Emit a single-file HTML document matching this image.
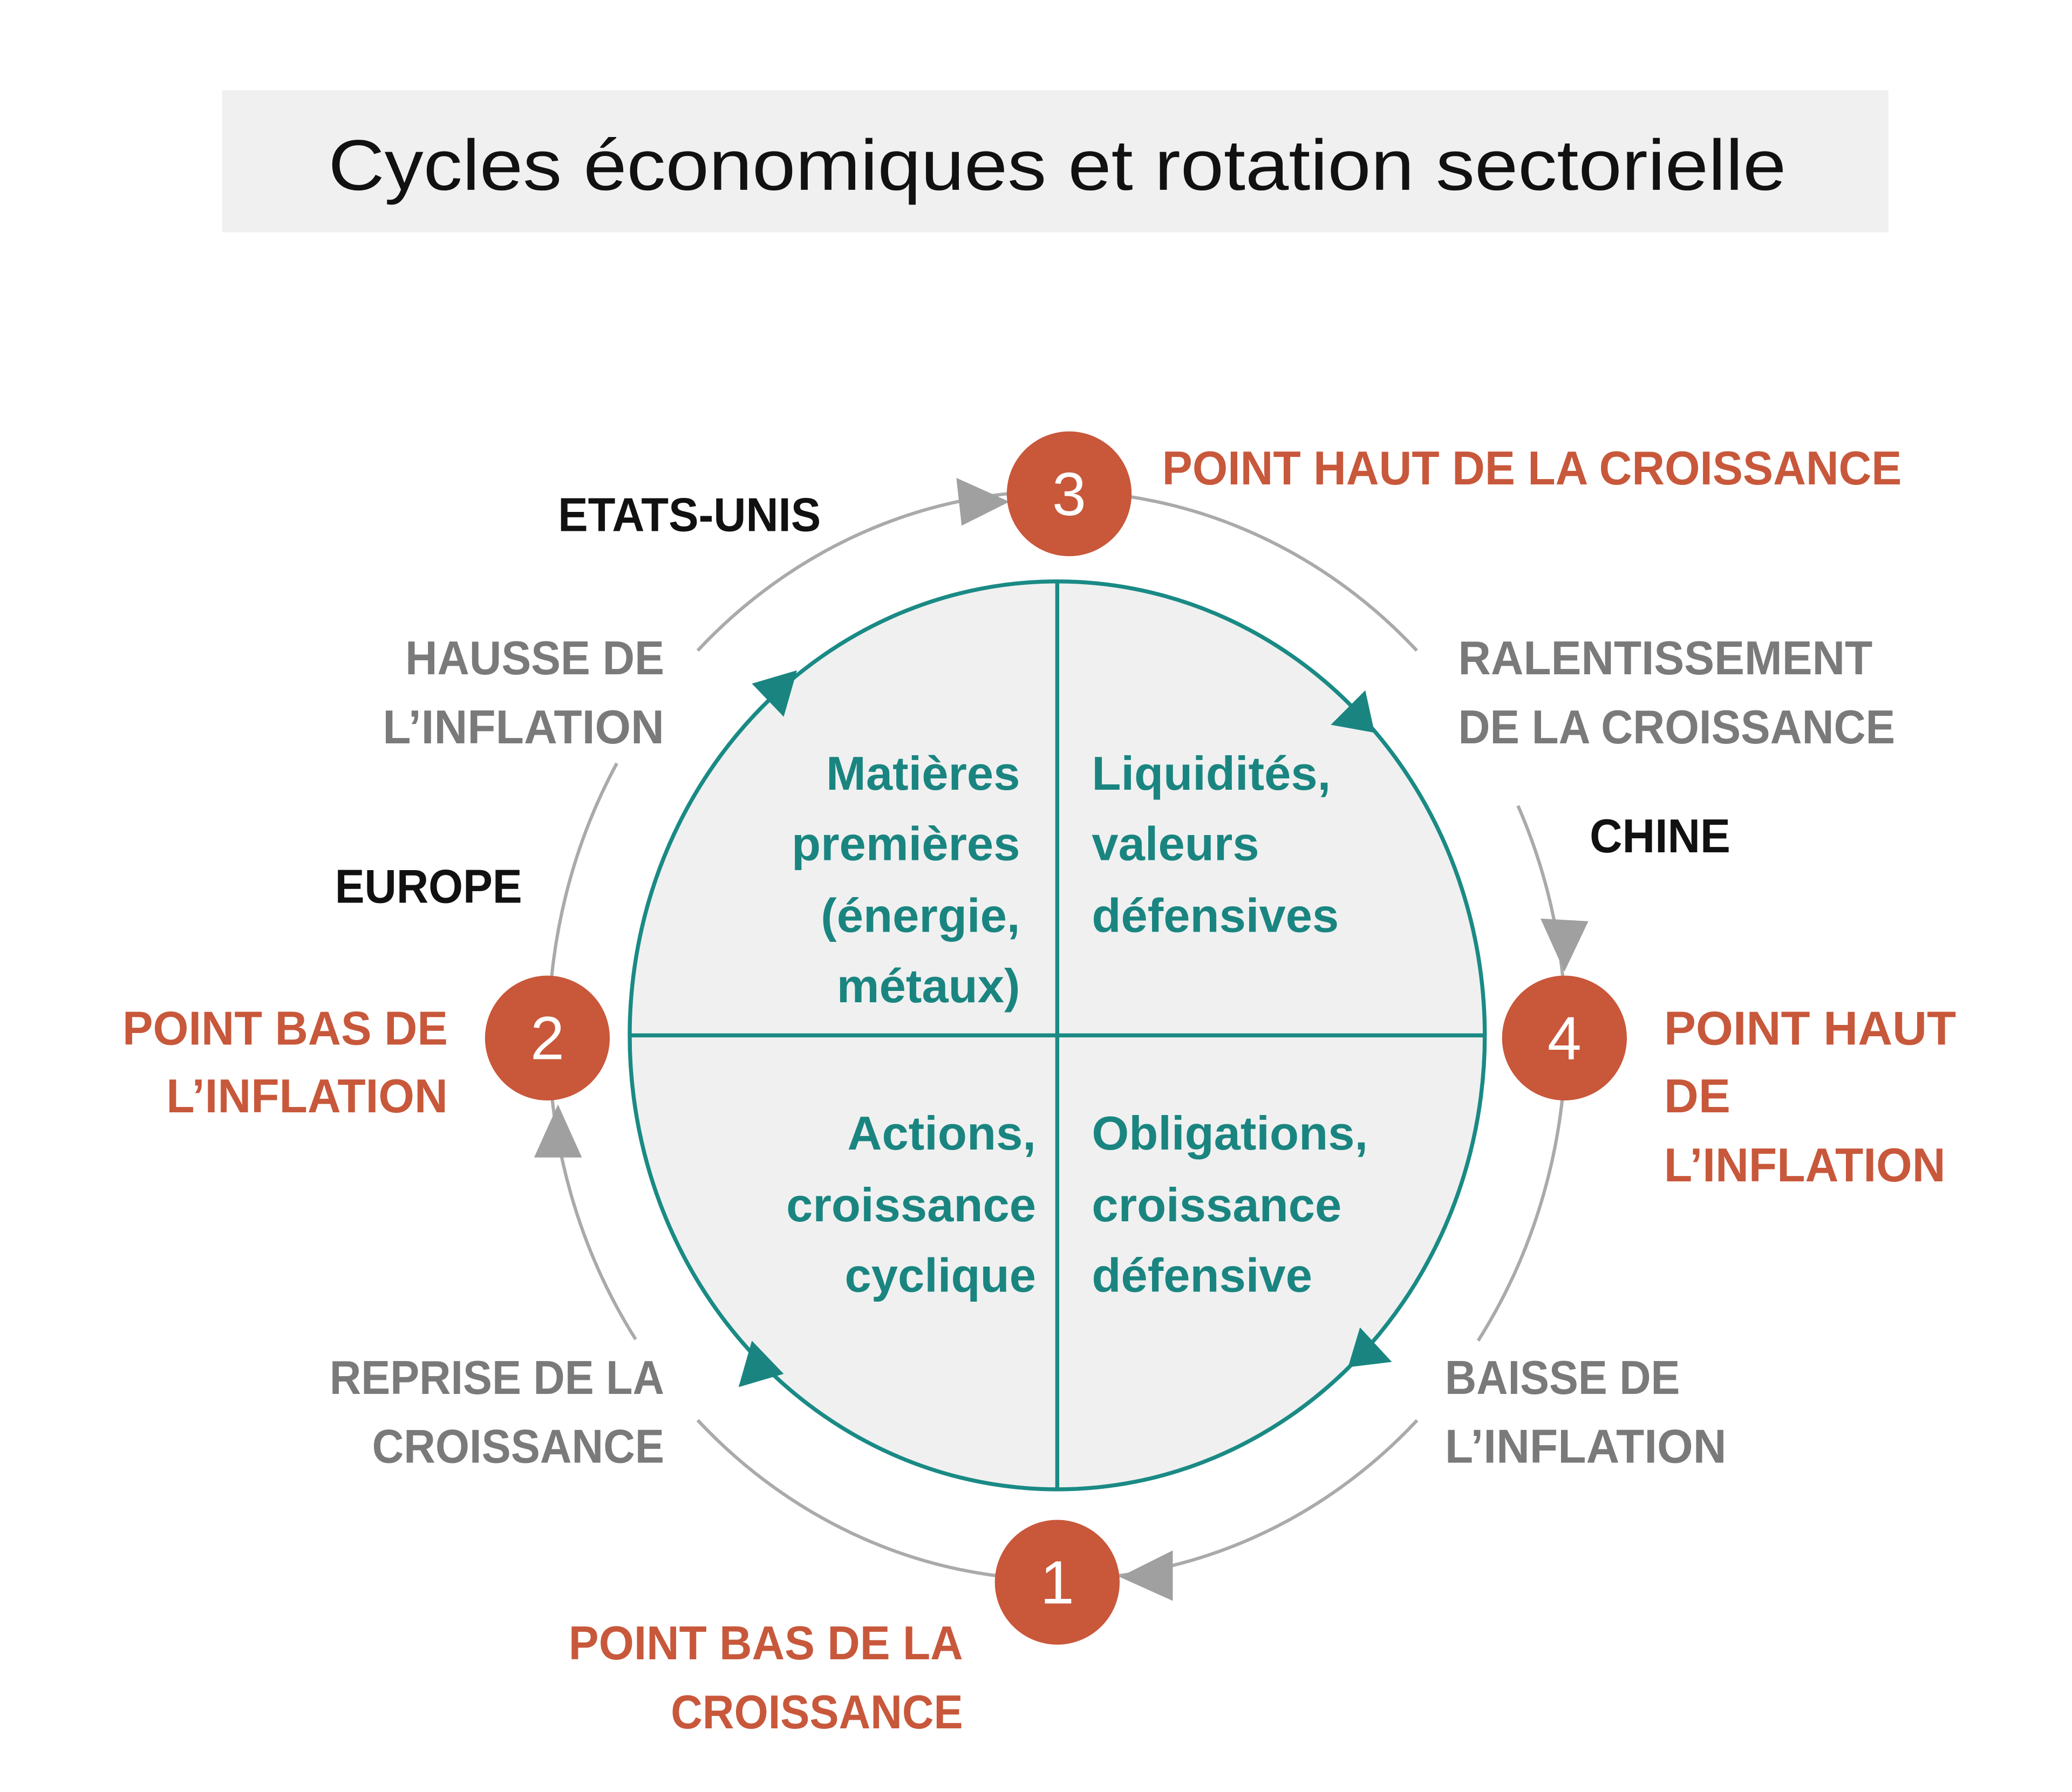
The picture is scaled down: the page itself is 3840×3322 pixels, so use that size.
<!DOCTYPE html>
<html><head><meta charset="utf-8"><style>
html,body{margin:0;padding:0;background:#fff;}
svg{display:block;}
text{font-family:"Liberation Sans",sans-serif;font-weight:bold;}
.r{fill:#c8583b;font-size:36px;}
.g{fill:#7a7a7a;font-size:36px;}
.k{fill:#111;font-size:36px;}
.t{fill:#1a8580;font-size:36px;}
</style></head><body>
<svg width="3840" height="3322" viewBox="0 0 1560 1350" xmlns="http://www.w3.org/2000/svg">
<rect x="0" y="0" width="1560" height="1350" fill="#fff"/>
<rect x="167" y="68" width="1255" height="107" fill="#f0f0f0"/>
<text x="247" y="143" font-size="54" style="font-weight:normal" fill="#111" textLength="1098" lengthAdjust="spacingAndGlyphs">Cycles économiques et rotation sectorielle</text>

<!-- outer gray arcs -->
<g fill="none" stroke="#aaa" stroke-width="2.5">
<path d="M796,370 A383,410 0 0 0 525.2,490.1"/>
<path d="M464.3,575 A383,410 0 0 0 413,780"/>
<path d="M796,370 A383,410 0 0 1 1066.8,490.1"/>
<path d="M1143,607 A383,410 0 0 1 1179,780"/>
<path d="M1179,780 A383,410 0 0 1 1113,1010"/>
<path d="M1067,1070 A383,410 0 0 1 796,1190"/>
<path d="M796,1190 A383,410 0 0 1 525.2,1069.9"/>
<path d="M478.5,1009 A383,410 0 0 1 413,780"/>
</g>
<g fill="#a0a0a0">
<polygon points="760,378 720,360 724,396"/>
<polygon points="1178,732 1160,692 1196,694"/>
<polygon points="843,1188 883,1168 883,1206"/>
<polygon points="420,832 402,872 438,872"/>
</g>

<!-- inner ellipse -->
<ellipse cx="796" cy="780" rx="322" ry="342" fill="#f0f0f0" stroke="#1a8a85" stroke-width="3"/>
<line x1="796" y1="438" x2="796" y2="1122" stroke="#1a8a85" stroke-width="3"/>
<line x1="474" y1="780" x2="1118" y2="780" stroke="#1a8a85" stroke-width="3"/>
<g fill="#1a8580">
<polygon points="600,505 566,515 590,540"/>
<polygon points="1035,552 1002,546 1028,520"/>
<polygon points="1015,1030 1048,1026 1024,1000"/>
<polygon points="556,1045 590,1035 566,1010"/>
</g>

<!-- nodes -->
<g fill="#c9573a">
<circle cx="805" cy="372" r="47"/>
<circle cx="412" cy="782" r="47"/>
<circle cx="1178" cy="782" r="47"/>
<circle cx="796" cy="1192" r="47"/>
</g>
<g fill="#fff" font-size="46" text-anchor="middle" style="font-weight:normal">
<text x="805" y="388" style="font-weight:normal">3</text>
<text x="412" y="798" style="font-weight:normal">2</text>
<text x="1178" y="798" style="font-weight:normal">4</text>
<text x="796" y="1208" style="font-weight:normal">1</text>
</g>

<!-- labels -->
<text class="r" x="875" y="365" textLength="557" lengthAdjust="spacingAndGlyphs">POINT HAUT DE LA CROISSANCE</text>
<text class="k" x="420" y="400" textLength="198" lengthAdjust="spacingAndGlyphs">ETATS-UNIS</text>
<text class="g" x="305" y="508" textLength="195" lengthAdjust="spacingAndGlyphs">HAUSSE DE</text>
<text class="g" x="288" y="560" textLength="212" lengthAdjust="spacingAndGlyphs">L’INFLATION</text>
<text class="g" x="1098" y="508" textLength="312" lengthAdjust="spacingAndGlyphs">RALENTISSEMENT</text>
<text class="g" x="1098" y="560" textLength="329" lengthAdjust="spacingAndGlyphs">DE LA CROISSANCE</text>
<text class="k" x="1197" y="642" textLength="106" lengthAdjust="spacingAndGlyphs">CHINE</text>
<text class="k" x="252" y="680" textLength="141" lengthAdjust="spacingAndGlyphs">EUROPE</text>
<text class="r" x="92" y="787" textLength="245" lengthAdjust="spacingAndGlyphs">POINT BAS DE</text>
<text class="r" x="125" y="838" textLength="212" lengthAdjust="spacingAndGlyphs">L’INFLATION</text>
<text class="r" x="1253" y="787" textLength="220" lengthAdjust="spacingAndGlyphs">POINT HAUT</text>
<text class="r" x="1253" y="838">DE</text>
<text class="r" x="1253" y="890" textLength="212" lengthAdjust="spacingAndGlyphs">L’INFLATION</text>
<text class="g" x="248" y="1050" textLength="252" lengthAdjust="spacingAndGlyphs">REPRISE DE LA</text>
<text class="g" x="280" y="1102" textLength="220" lengthAdjust="spacingAndGlyphs">CROISSANCE</text>
<text class="g" x="1088" y="1050" textLength="177" lengthAdjust="spacingAndGlyphs">BAISSE DE</text>
<text class="g" x="1088" y="1102" textLength="212" lengthAdjust="spacingAndGlyphs">L’INFLATION</text>
<text class="r" x="428" y="1250" textLength="297" lengthAdjust="spacingAndGlyphs">POINT BAS DE LA</text>
<text class="r" x="505" y="1302" textLength="220" lengthAdjust="spacingAndGlyphs">CROISSANCE</text>

<!-- quadrant texts -->
<g class="t" text-anchor="end">
<text class="t" x="768" y="595">Matières</text>
<text class="t" x="768" y="648">premières</text>
<text class="t" x="768" y="702">(énergie,</text>
<text class="t" x="768" y="755">métaux)</text>
<text class="t" x="780" y="866">Actions,</text>
<text class="t" x="780" y="920">croissance</text>
<text class="t" x="780" y="973">cyclique</text>
</g>
<text class="t" x="822" y="595">Liquidités,</text>
<text class="t" x="822" y="648">valeurs</text>
<text class="t" x="822" y="702">défensives</text>
<text class="t" x="822" y="866">Obligations,</text>
<text class="t" x="822" y="920">croissance</text>
<text class="t" x="822" y="973">défensive</text>
</svg>
</body></html>
